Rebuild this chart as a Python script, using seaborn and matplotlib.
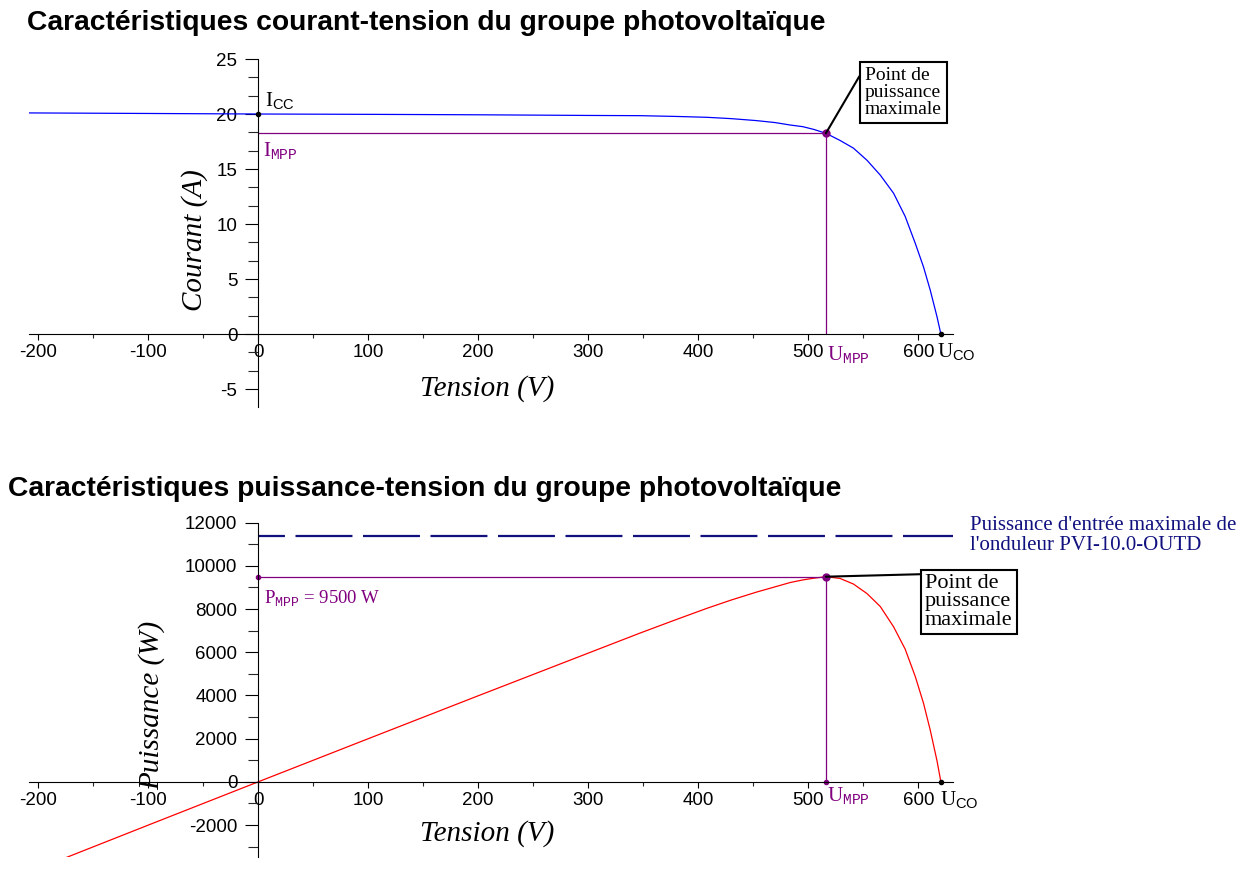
import matplotlib
matplotlib.use("Agg")
import matplotlib.pyplot as plt
from matplotlib.ticker import MultipleLocator
import seaborn as sns
import pandas as pd

tension = [-210, -100, 0, 100, 200, 300, 347, 380, 408, 430, 453, 470, 483.5,
           495, 505, 516, 528.8, 541, 553.3, 565.4, 577.5, 588, 597.2, 604.7,
           610.8, 616.9, 620.5]
courant = [20.1, 20.05, 20.0, 19.97, 19.93, 19.87, 19.85, 19.78, 19.7, 19.58,
           19.4, 19.22, 19.0, 18.85, 18.6, 18.25, 17.6, 16.9, 15.8, 14.45, 12.8,
           10.7, 8.25, 6.1, 4.0, 1.6, 0.0]
puissance = [-4221, -2005, 0, 1997, 3986, 5961, 6888, 7516, 8038, 8420, 8788,
             9033, 9230, 9350, 9430, 9500, 9420, 9160, 8720, 8120, 7180, 6150,
             4880, 3640, 2400, 990, 0]

U_MPP = 516
I_MPP = 18.25
P_MPP = 9500
U_CO = 620.5
I_CC = 20.0
P_MAX_OND = 11400

sns.set_theme(style="ticks")
plt.rcParams["font.family"] = ["Liberation Sans", "DejaVu Sans"]
plt.rcParams["text.color"] = "black"
plt.rcParams["axes.unicode_minus"] = False
plt.rcParams["mathtext.fontset"] = "custom"
plt.rcParams["mathtext.rm"] = "Liberation Serif"
plt.rcParams["mathtext.sf"] = "Liberation Sans"
plt.rcParams["mathtext.tt"] = "Liberation Mono"
plt.rcParams["lines.scale_dashes"] = False

PURPLE = "#800080"
NAVY = "#10107f"
SERIF = ["Liberation Serif", "DejaVu Serif"]

df_i = pd.DataFrame({"Tension": tension, "Courant": courant})
df_p = pd.DataFrame({"Tension": tension, "Puissance": puissance})

W, H = 1253, 881
fig = plt.figure(figsize=(W / 100, H / 100), dpi=100)


def px_axes(left, top, right, bottom):
    return fig.add_axes([left / W, 1 - bottom / H, (right - left) / W, (bottom - top) / H])


def style_axes(ax, ylim, ymaj, ymin):
    ax.set_xlim(-208, 631.5)
    ax.set_ylim(*ylim)
    for s in ["top", "right"]:
        ax.spines[s].set_visible(False)
    ax.spines["left"].set_position(("data", 0))
    ax.spines["bottom"].set_position(("data", 0))
    for s in ["left", "bottom"]:
        ax.spines[s].set_color("black")
        ax.spines[s].set_linewidth(0.8)
    ax.set_xticks(range(-200, 601, 100))
    ax.xaxis.set_minor_locator(MultipleLocator(50))
    ax.yaxis.set_major_locator(MultipleLocator(ymaj))
    ax.yaxis.set_minor_locator(MultipleLocator(ymin))
    ax.tick_params(axis="x", which="major", direction="out", length=4, width=0.8,
                   pad=3.5, labelsize=13.5, colors="black")
    ax.tick_params(axis="x", which="minor", direction="out", length=3, width=0.8)
    ax.tick_params(axis="y", which="major", direction="out", length=9.4, width=0.8,
                   pad=5.5, labelsize=13.5, colors="black")
    ax.tick_params(axis="y", which="minor", direction="out", length=7.2, width=0.8)
    ax.set_xlabel("")
    ax.set_ylabel("")
    ax.patch.set_alpha(0)


# --- courant-tension ---
ax1 = px_axes(29.3, 59, 953, 406.7)
sns.lineplot(data=df_i, x="Tension", y="Courant", ax=ax1, color="#0000ff", lw=0.9,
             sort=False, estimator=None)
style_axes(ax1, (-6.6, 25), 5, 5 / 3)
ax1.plot([0, U_MPP], [I_MPP, I_MPP], color=PURPLE, lw=0.9)
ax1.plot([U_MPP, U_MPP], [0, I_MPP], color=PURPLE, lw=0.9)
ax1.plot([0, U_CO], [I_CC, 0], ls="none", marker="o", ms=3, color="black")
ax1.plot([U_MPP], [I_MPP], ls="none", marker="o", ms=5, color=PURPLE)

ax1.annotate(r"$\mathrm{I}_{\mathsf{CC}}$", xy=(0, I_CC), xytext=(5, 9),
             textcoords="offset points", ha="left", va="center", fontsize=15, color="black")
ax1.annotate(r"$\mathrm{I}_{\mathtt{MPP}}$", xy=(0, I_MPP), xytext=(3.5, -13),
             textcoords="offset points", ha="left", va="center", fontsize=15, color=PURPLE)
ax1.annotate(r"$\mathrm{U}_{\mathtt{MPP}}$", xy=(U_MPP, 0), xytext=(0.5, -15),
             textcoords="offset points", ha="left", va="center", fontsize=15, color=PURPLE)
ax1.annotate(r"$\mathrm{U}_{\mathsf{CO}}$", xy=(U_CO, 0), xytext=(-2.5, -13),
             textcoords="offset points", ha="left", va="center", fontsize=15, color="black")
ax1.annotate("Point de\npuissance\nmaximale", xy=(U_MPP, I_MPP), xytext=(551.5, 24.3),
             ha="left", va="top", fontsize=14, family=SERIF, linespacing=1.0,
             bbox=dict(boxstyle="square,pad=0.25", fc="white", ec="black", lw=1.5),
             arrowprops=dict(arrowstyle="-", color="black", lw=1.5, relpos=(0, 1),
                             shrinkA=0, shrinkB=0))
ax1.text(0.496, 0.051, "Tension (V)", transform=ax1.transAxes, ha="center", va="center",
         fontsize=21, style="italic", family=SERIF)
ax1.text(0.179, 0.479, "Courant (A)", transform=ax1.transAxes, ha="center", va="center",
         fontsize=21, style="italic", family=SERIF, rotation=90)

# --- puissance-tension ---
ax2 = px_axes(29.3, 522.7, 953, 857)
ax2.plot([0, 632], [P_MAX_OND, P_MAX_OND], color=NAVY, lw=1.6,
         linestyle=(21.6, (41, 7.6)))
sns.lineplot(data=df_p, x="Tension", y="Puissance", ax=ax2, color="#ff0000", lw=0.9,
             sort=False, estimator=None)
style_axes(ax2, (-3480, 12000), 2000, 1000)
ax2.plot([0, U_MPP], [P_MPP, P_MPP], color=PURPLE, lw=0.9)
ax2.plot([U_MPP, U_MPP], [0, P_MPP], color=PURPLE, lw=0.9)
ax2.plot([0, U_MPP], [P_MPP, 0], ls="none", marker="o", ms=3, color=PURPLE)
ax2.plot([U_CO], [0], ls="none", marker="o", ms=3, color="black")
ax2.plot([U_MPP], [P_MPP], ls="none", marker="o", ms=5, color=PURPLE)

ax2.annotate(r"$\mathrm{P}_{\mathtt{MPP}}$ = 9500 W", xy=(0, P_MPP), xytext=(4.5, -16),
             textcoords="offset points", ha="left", va="center", fontsize=13.5,
             family=SERIF, color=PURPLE)
ax2.annotate(r"$\mathrm{U}_{\mathtt{MPP}}$", xy=(U_MPP, 0), xytext=(0.5, -10),
             textcoords="offset points", ha="left", va="center", fontsize=15, color=PURPLE)
ax2.annotate(r"$\mathrm{U}_{\mathsf{CO}}$", xy=(U_CO, 0), xytext=(-1, -13),
             textcoords="offset points", ha="left", va="center", fontsize=15, color="black")
ax2.annotate("Point de\npuissance\nmaximale", xy=(U_MPP, P_MPP), xytext=(606, 9620),
             ha="left", va="top", fontsize=16, family=SERIF, linespacing=0.95,
             bbox=dict(boxstyle="square,pad=0.18", fc="white", ec="black", lw=1.5),
             arrowprops=dict(arrowstyle="-", color="black", lw=1.5, relpos=(0, 1),
                             shrinkA=0, shrinkB=0))
ax2.text(647, P_MAX_OND, "Puissance d'entrée maximale de\nl'onduleur PVI-10.0-OUTD",
         ha="left", va="center", fontsize=15, family=SERIF, color=NAVY, linespacing=1.05)
ax2.text(0.496, 0.069, "Tension (V)", transform=ax2.transAxes, ha="center", va="center",
         fontsize=21, style="italic", family=SERIF)
ax2.text(0.133, 0.455, "Puissance (W)", transform=ax2.transAxes, ha="center", va="center",
         fontsize=21, style="italic", family=SERIF, rotation=90)

fig.text(27 / W, 1 - 23 / H, "Caractéristiques courant-tension du groupe photovoltaïque",
         ha="left", va="center", fontsize=20.3, weight="bold")
fig.text(8 / W, 1 - 489 / H, "Caractéristiques puissance-tension du groupe photovoltaïque",
         ha="left", va="center", fontsize=20.3, weight="bold")

fig.savefig("out.png", dpi=100)
